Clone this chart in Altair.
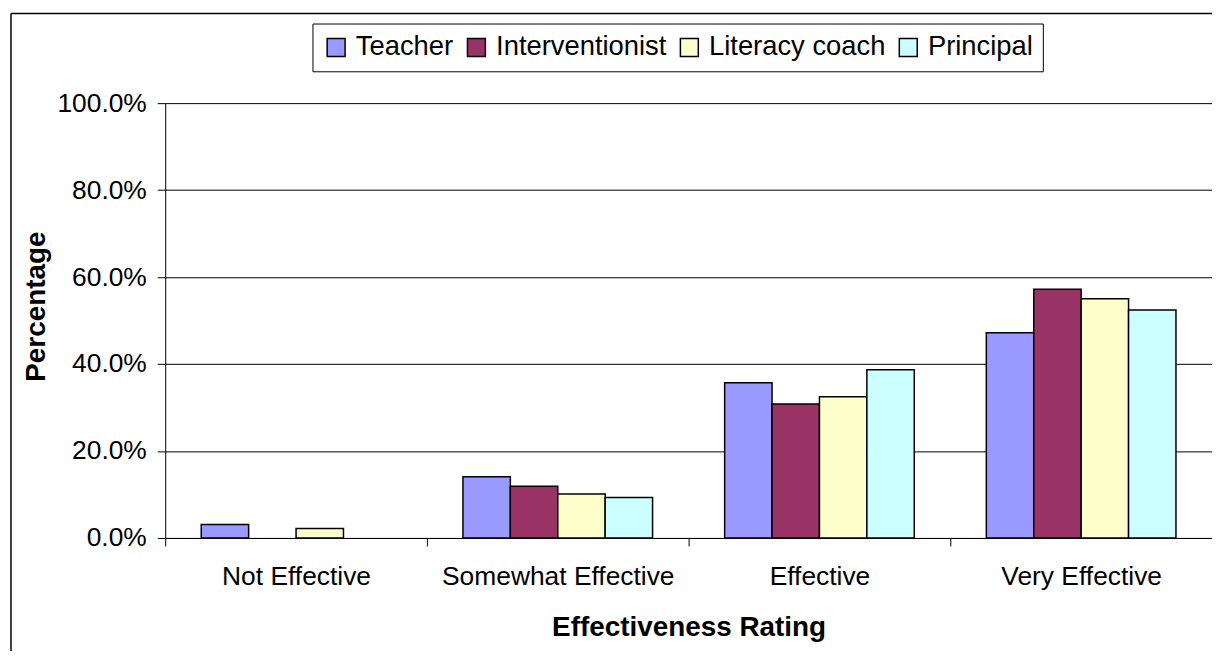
import altair as alt
import pandas as pd

categories = ["Not Effective", "Somewhat Effective", "Effective", "Very Effective"]
roles = ["Teacher", "Interventionist", "Literacy coach", "Principal"]
teacher = [3.1, 14.1, 35.7, 47.2]
interventionist = [0.0, 11.9, 30.8, 57.2]
literacy_coach = [2.2, 10.1, 32.5, 55.0]
principal = [0.0, 9.3, 38.7, 52.4]
colors = ["#9999FF", "#993366", "#FFFFCC", "#CCFFFF"]
y_ticks = [0, 0.2, 0.4, 0.6, 0.8, 1.0]

series = [teacher, interventionist, literacy_coach, principal]
rows = []
for role, vals in zip(roles, series):
    for cat, v in zip(categories, vals):
        rows.append({"Rating": cat, "Role": role, "Value": v / 100.0})
df = pd.DataFrame(rows)

FONT = "Liberation Sans"
W, H = 1052, 437

bars = alt.Chart(df).transform_filter("datum.Value > 0").mark_bar(
    stroke="black", strokeWidth=1.5
).encode(
    x=alt.X("Rating:N", sort=categories,
            scale=alt.Scale(domain=categories, paddingInner=0, paddingOuter=0),
            axis=alt.Axis(title="Effectiveness Rating", labelAngle=0,
                          labelFontSize=26.5, labelFont=FONT, labelColor="black",
                          labelLimit=600,
                          labelPadding=18, tickSize=8, tickBand="extent",
                          tickColor="black", domainColor="black",
                          titleFont=FONT, titleFontSize=28, titleFontWeight="bold",
                          titleColor="black", titleBaseline="alphabetic",
                          titleY=98, titleX=W / 2, titleAlign="center")),
    xOffset=alt.XOffset("Role:N", sort=roles,
                        scale=alt.Scale(domain=roles, paddingInner=0, paddingOuter=0.76)),
    y=alt.Y("Value:Q", scale=alt.Scale(domain=[0, 1], nice=False),
            axis=alt.Axis(title="Percentage", format=".1%", values=y_ticks,
                          labelFontSize=26.5, labelFont=FONT, labelColor="black",
                          labelPadding=11, tickSize=8, tickColor="black",
                          domainColor="black", grid=True, gridColor="black",
                          gridWidth=1,
                          titleFont=FONT, titleFontSize=28, titleFontWeight="bold",
                          titleColor="black", titleBaseline="alphabetic",
                          titleX=-121, titleY=204, titleAngle=-90,
                          titleAlign="center")),
    color=alt.Color("Role:N", sort=roles,
                    scale=alt.Scale(domain=roles, range=colors),
                    legend=alt.Legend(title=None, orient="none", direction="horizontal",
                                      columns=4, legendX=148, legendY=-80,
                                      symbolType="square", symbolSize=324,
                                      symbolStrokeColor="black", symbolStrokeWidth=1.5,
                                      symbolOpacity=1,
                                      labelFont=FONT, labelFontSize=27.5, labelColor="black",
                                      labelLimit=500, labelOffset=6, columnPadding=9,
                                      padding=10, strokeColor="black", fillColor="white")),
)

one = pd.DataFrame({"a": [0]})
frame_top = alt.Chart(one).mark_rule(color="black", strokeWidth=1.5).encode(
    x=alt.value(-155), x2=alt.value(1200), y=alt.value(-90),
)
frame_left = alt.Chart(one).mark_rule(color="black", strokeWidth=1.5).encode(
    x=alt.value(-155), y=alt.value(-90), y2=alt.value(800),
)

chart = alt.layer(frame_top, frame_left, bars).properties(
    width=W, height=H,
    padding={"left": 158, "top": 94, "right": 0, "bottom": 112},
    autosize=alt.AutoSizeParams(type="none"),
    background="white",
).configure_view(stroke=None)

chart.save("out.html", embed_options={"renderer": "svg", "actions": False})
